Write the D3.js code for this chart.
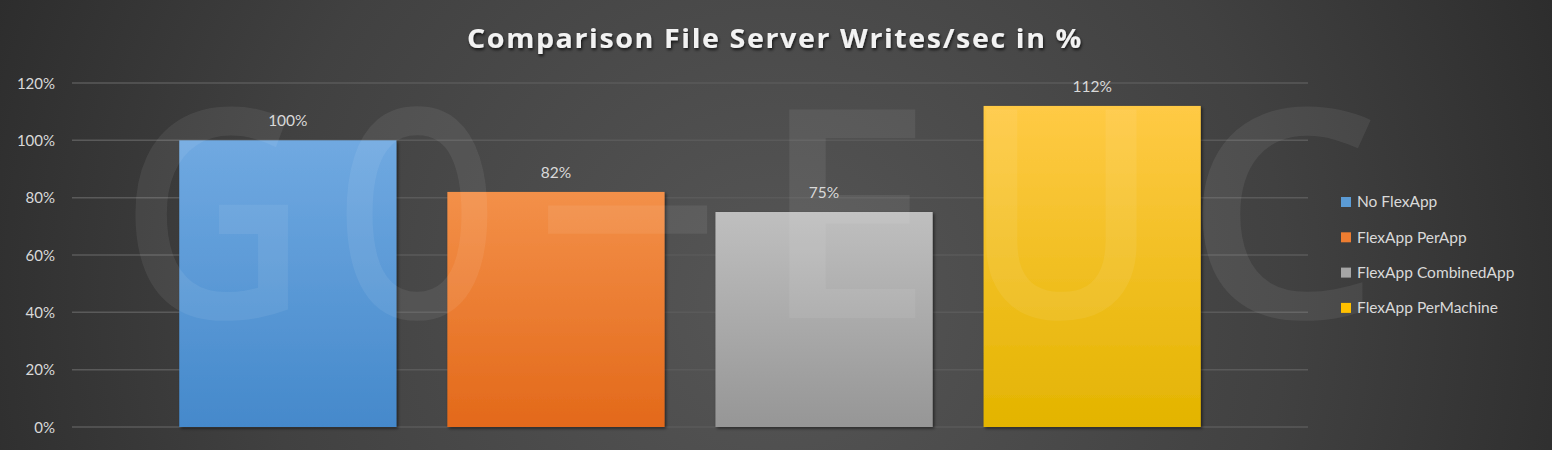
<!DOCTYPE html>
<html><head><meta charset="utf-8">
<script src="https://cdn.jsdelivr.net/npm/d3@7"></script>
<style>html,body{margin:0;padding:0;background:#2b2b2b;}svg{display:block;}</style>
</head><body>
<svg id="chart" width="1552" height="450"></svg>
<script>
const title = "Comparison File Server Writes/sec in %";
const series = ["No FlexApp", "FlexApp PerApp", "FlexApp CombinedApp", "FlexApp PerMachine"];
const values = [100, 82, 75, 112];
const valueLabels = ["100%", "82%", "75%", "112%"];
const ticks = [0, 20, 40, 60, 80, 100, 120];
const watermark = ["G", "O", "-", "E", "U", "C"];
const colorsTop = ["#70a9e1", "#f39049", "#bfbfbf", "#ffca45"];
const colorsBottom = ["#4589cb", "#e3691a", "#969696", "#e3b400"];
const legendColors = ["#5b9bd5", "#ed7d31", "#a5a5a5", "#ffc000"];

(function(){
const W = 1552, H = 450;
const svg = d3.select("#chart");
const defs = svg.append("defs");

const bg = defs.append("radialGradient").attr("id","bg").attr("cx","0.5").attr("cy","0.55").attr("r","0.6")
  .attr("gradientTransform","translate(0.5,0.5) scale(1,3.4) translate(-0.5,-0.5)");
bg.append("stop").attr("offset","0").attr("stop-color","#565656");
bg.append("stop").attr("offset","0.55").attr("stop-color","#414141");
bg.append("stop").attr("offset","1").attr("stop-color","#272727");
svg.append("rect").attr("width",W).attr("height",H).attr("fill","url(#bg)");

const sh = defs.append("filter").attr("id","shadow").attr("x","-10%").attr("y","-10%").attr("width","120%").attr("height","120%");
sh.append("feDropShadow").attr("dx",1.5).attr("dy",1.5).attr("stdDeviation",1.5).attr("flood-color","#000").attr("flood-opacity",0.55);
const tsh = defs.append("filter").attr("id","tshadow");
tsh.append("feDropShadow").attr("dx",1).attr("dy",2).attr("stdDeviation",1.5).attr("flood-color","#000").attr("flood-opacity",0.7);

series.forEach((s,i)=>{
  const g = defs.append("linearGradient").attr("id","g"+i).attr("x1",0).attr("y1",0).attr("x2",0).attr("y2",1);
  g.append("stop").attr("offset",0).attr("stop-color",colorsTop[i]);
  g.append("stop").attr("offset",1).attr("stop-color",colorsBottom[i]);
});

const pl = 72, pr = 1308, pt = 83, pb = 427;
const y = d3.scaleLinear().domain([0,120]).range([pb, pt]);
const x = d3.scaleBand().domain(series).range([pl, pr]).paddingInner(0.19).paddingOuter(0.4);

svg.append("g").selectAll("line").data(ticks).join("line")
  .attr("x1",pl).attr("x2",pr).attr("y1",d=>y(d)).attr("y2",d=>y(d))
  .attr("stroke","#5a5a5a").attr("stroke-width",1.5);

const axis = d3.axisLeft(y).tickValues(ticks).tickFormat(d=>d+"%").tickSize(0).tickPadding(0);
const ag = svg.append("g").attr("transform","translate(55,0)").call(axis);
ag.select(".domain").remove();
ag.selectAll("text").attr("fill","#d9d9d9").attr("font-family","Lato, Open Sans, sans-serif").attr("font-size",15).attr("dy","0.35em");

svg.append("g").selectAll("rect").data(values).join("rect")
  .attr("x",(d,i)=>x(series[i])).attr("width",x.bandwidth())
  .attr("y",d=>y(d)).attr("height",d=>y(0)-y(d))
  .attr("fill",(d,i)=>"url(#g"+i+")").attr("filter","url(#shadow)");

// watermark letters (decorative), drawn over bars
const wmBox = [[120,188,318],[334,166,318],[526,203,298],[760,174,318],[963,197,318],[1184,197,318]];
svg.append("g").selectAll("text").data(watermark).join("text")
  .attr("x",(d,i)=>wmBox[i][0]).attr("y",(d,i)=>wmBox[i][2])
  .attr("font-family","Open Sans, sans-serif").attr("font-weight",600)
  .attr("font-size",292)
  .attr("textLength",(d,i)=>wmBox[i][1]).attr("lengthAdjust","spacingAndGlyphs")
  .attr("fill","#ffffff").attr("fill-opacity",0.07)
  .text(d=>d);

svg.append("g").selectAll("text").data(values).join("text")
  .attr("x",(d,i)=>x(series[i])+x.bandwidth()/2).attr("y",d=>y(d)-14)
  .attr("text-anchor","middle").attr("fill","#d9d9d9")
  .attr("font-family","Lato, Open Sans, sans-serif").attr("font-size",15.5)
  .text((d,i)=>valueLabels[i]);

svg.append("text").text(title).attr("x",775).attr("y",48).attr("text-anchor","middle")
  .attr("font-family","Open Sans, sans-serif").attr("font-weight",700).attr("font-size",27)
  .attr("letter-spacing",1.5)
  .attr("textLength",616).attr("lengthAdjust","spacingAndGlyphs")
  .attr("fill","#f2f2f2").attr("filter","url(#tshadow)");

const lg = svg.append("g").selectAll("g").data(series).join("g")
  .attr("transform",(d,i)=>`translate(1341,${202 + i*35.3})`);
lg.append("rect").attr("x",0).attr("y",-5).attr("width",10).attr("height",10).attr("fill",(d,i)=>legendColors[i]);
lg.append("text").attr("x",16).attr("y",0).attr("dy","0.35em").text(d=>d)
  .attr("fill","#d9d9d9").attr("font-family","Lato, Open Sans, sans-serif").attr("font-size",15.5);
})();
</script>
</body></html>
